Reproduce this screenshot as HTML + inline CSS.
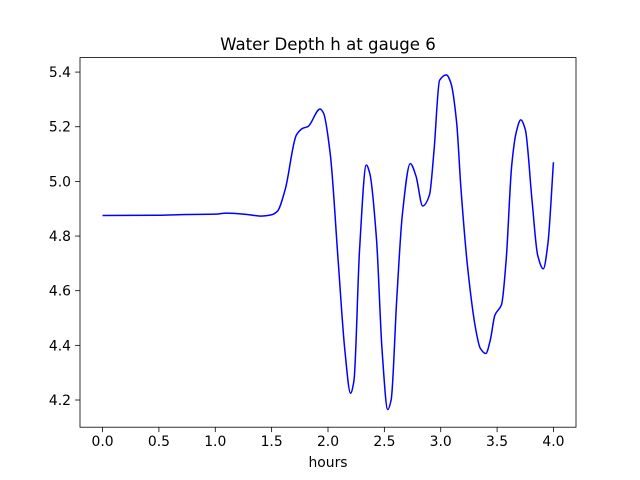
<!DOCTYPE html>
<html><head><meta charset="utf-8"><style>
body{margin:0;background:#fff}
svg{font-family:"DejaVu Sans","Liberation Sans",sans-serif;display:block}
</style></head><body>
<svg width="640" height="480" viewBox="0 0 640 480">
<rect x="0" y="0" width="640" height="480" fill="#fff"/>
<text x="328" y="50" text-anchor="middle" font-size="16.6">Water Depth h at gauge 6</text>
<g id="plot"></g>
<g id="axes"></g>
<text x="328" y="467" text-anchor="middle" font-size="13.9">hours</text>
</svg>
<script>
const times=[0,0.5,0.75,1.0,1.1,1.3,1.4,1.5,1.55,1.62,1.72,1.78,1.82,1.93,1.96,2.02,2.09,2.15,2.2,2.23,2.28,2.34,2.37,2.43,2.48,2.53,2.56,2.61,2.66,2.73,2.78,2.84,2.9,2.94,2.99,3.05,3.09,3.14,3.18,3.24,3.31,3.35,3.4,3.44,3.48,3.54,3.58,3.63,3.67,3.71,3.75,3.81,3.86,3.91,3.95,4.0];
const depths=[4.875,4.876,4.879,4.88,4.884,4.878,4.873,4.878,4.89,4.97,5.17,5.195,5.2,5.265,5.25,5.1,4.71,4.38,4.225,4.27,4.75,5.06,5.03,4.79,4.38,4.165,4.2,4.57,4.88,5.065,5.02,4.91,4.95,5.11,5.37,5.39,5.36,5.22,4.97,4.68,4.46,4.39,4.37,4.42,4.51,4.55,4.71,5.06,5.18,5.225,5.19,4.93,4.73,4.68,4.77,5.07];
const xTicks=[0,0.5,1.0,1.5,2.0,2.5,3.0,3.5,4.0];
const yTicks=[4.2,4.4,4.6,4.8,5.0,5.2,5.4];
const L=80,R=576,T=57.6,B=427.2,x0=-0.2,x1=4.2,y0=4.1005,y1=5.453;
const sx=v=>L+(v-x0)/(x1-x0)*(R-L);
const sy=v=>B-(v-y0)/(y1-y0)*(B-T);
const NS='http://www.w3.org/2000/svg';
const plot=document.getElementById('plot'),axes=document.getElementById('axes');
function mk(tag,attrs,parent){const e=document.createElementNS(NS,tag);for(const k in attrs)e.setAttribute(k,attrs[k]);parent.appendChild(e);return e;}
const P=times.map((t,i)=>[sx(t),sy(depths[i])]);
const n=P.length,dl=[],m=[];
for(let i=0;i<n-1;i++)dl.push((P[i+1][1]-P[i][1])/(P[i+1][0]-P[i][0]));
for(let i=0;i<n;i++){
 if(i===0)m.push(dl[0]);else if(i===n-1)m.push(dl[n-2]);
 else if(dl[i-1]*dl[i]<=0)m.push(0);
 else{const h0=P[i][0]-P[i-1][0],h1=P[i+1][0]-P[i][0];const w1=2*h1+h0,w2=h1+2*h0;m.push((w1+w2)/(w1/dl[i-1]+w2/dl[i]));}
}
let d='M'+P[0][0].toFixed(2)+','+P[0][1].toFixed(2);
for(let i=0;i<n-1;i++){const h=(P[i+1][0]-P[i][0])/3;
d+=' C'+(P[i][0]+h).toFixed(2)+','+(P[i][1]+m[i]*h).toFixed(2)+' '+(P[i+1][0]-h).toFixed(2)+','+(P[i+1][1]-m[i+1]*h).toFixed(2)+' '+P[i+1][0].toFixed(2)+','+P[i+1][1].toFixed(2);}
const line=mk('path',{d:d,fill:'none',stroke:'#0000ff','stroke-width':1.5,'stroke-linejoin':'round'},plot);


const frame=mk('rect',{x:L,y:T,width:R-L,height:B-T,fill:'none',stroke:'#000','stroke-width':0.8},axes);


xTicks.forEach(v=>{const x=sx(v);
const tk=mk('line',{x1:x,x2:x,y1:B,y2:B+4.9,stroke:'#000','stroke-width':0.8},axes);


const tx=mk('text',{x:x,y:B+19,'text-anchor':'middle','font-size':13.9},axes);tx.textContent=v.toFixed(1);

});
yTicks.forEach(v=>{const y=sy(v);
const tk=mk('line',{x1:L-4.9,x2:L,y1:y,y2:y,stroke:'#000','stroke-width':0.8},axes);


const tx=mk('text',{x:L-9,y:y+5,'text-anchor':'end','font-size':13.9},axes);tx.textContent=v.toFixed(1);

});
</script>
</body></html>
